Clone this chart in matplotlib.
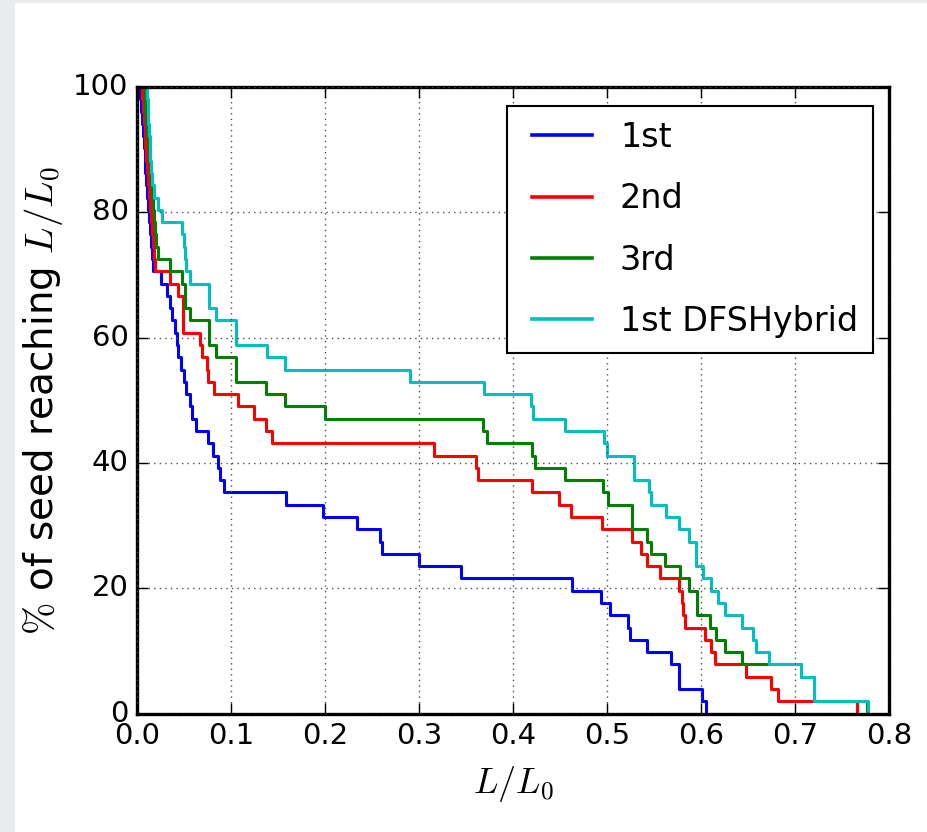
import numpy as np
import matplotlib
matplotlib.use("Agg")
import matplotlib.pyplot as plt
from matplotlib.patches import Rectangle

N_SEEDS = 51

# L/L0 where each curve steps down, and number of seeds still reaching it
first_x = [0.0, 0.003, 0.004, 0.005, 0.006, 0.007, 0.008, 0.009, 0.010, 0.011, 0.012,
           0.013, 0.014, 0.015, 0.016, 0.017, 0.025, 0.032, 0.035, 0.0375, 0.040,
           0.0425, 0.044, 0.047, 0.0495, 0.052, 0.056, 0.059, 0.063, 0.076, 0.081,
           0.086, 0.088, 0.093, 0.159, 0.198, 0.234, 0.258, 0.261, 0.300, 0.345,
           0.463, 0.494, 0.503, 0.522, 0.524, 0.543, 0.568, 0.577, 0.601, 0.605]
first_n = [51, 50, 49, 48, 47, 46, 45, 44, 43, 42, 41,
           40, 39, 38, 37, 36, 35, 34, 33, 32, 31,
           30, 29, 28, 27, 26, 25, 24, 23, 22, 21,
           20, 19, 18, 17, 16, 15, 14, 13, 12, 11,
           10, 9, 8, 7, 6, 5, 4, 2, 1, 0]

second_x = [0.0, 0.005, 0.006, 0.007, 0.008, 0.009, 0.010, 0.011, 0.012, 0.013, 0.014,
            0.015, 0.016, 0.017, 0.018, 0.019, 0.0346, 0.0434, 0.049, 0.0665, 0.069,
            0.074, 0.076, 0.0824, 0.107, 0.124, 0.137, 0.144, 0.316, 0.361, 0.363,
            0.420, 0.449, 0.462, 0.495, 0.527, 0.536, 0.543, 0.556, 0.577, 0.580,
            0.581, 0.583, 0.604, 0.611, 0.615, 0.648, 0.674, 0.682, 0.766]
second_n = [51, 50, 49, 48, 47, 46, 45, 44, 43, 42, 41,
            40, 39, 38, 37, 36, 35, 34, 31, 30, 29,
            28, 27, 26, 25, 24, 23, 22, 21, 20, 19,
            18, 17, 16, 15, 14, 13, 12, 11, 10, 9,
            8, 7, 6, 5, 4, 3, 2, 1, 0]

third_x = [0.0, 0.008, 0.009, 0.010, 0.011, 0.012, 0.013, 0.014, 0.015, 0.016, 0.017,
           0.018, 0.019, 0.020, 0.022, 0.0353, 0.048, 0.051, 0.0566, 0.077, 0.084,
           0.1055, 0.137, 0.157, 0.1995, 0.368, 0.372, 0.420, 0.423, 0.455, 0.4955,
           0.501, 0.527, 0.543, 0.547, 0.562, 0.578, 0.587, 0.596, 0.610, 0.616,
           0.625, 0.644, 0.706, 0.720, 0.777]
third_n = [51, 50, 49, 48, 47, 46, 45, 44, 43, 42, 41,
           40, 39, 38, 37, 36, 35, 33, 32, 30, 29,
           27, 26, 25, 24, 23, 22, 21, 20, 19, 18,
           17, 15, 14, 13, 12, 11, 10, 8, 7, 6,
           5, 4, 3, 1, 0]

hybrid_x = [0.0, 0.011, 0.0115, 0.012, 0.013, 0.0135, 0.014, 0.015, 0.016, 0.0185, 0.022,
            0.027, 0.048, 0.050, 0.051, 0.052, 0.056, 0.077, 0.084, 0.105, 0.138,
            0.157, 0.290, 0.369, 0.419, 0.421, 0.455, 0.497, 0.500, 0.529, 0.545,
            0.547, 0.563, 0.577, 0.587, 0.595, 0.602, 0.611, 0.618, 0.625, 0.644,
            0.655, 0.658, 0.672, 0.706, 0.720, 0.7775]
hybrid_n = [51, 50, 49, 48, 47, 46, 45, 44, 43, 42, 41,
            40, 39, 38, 37, 36, 35, 33, 32, 30, 29,
            28, 27, 26, 25, 24, 23, 22, 21, 19, 18,
            17, 16, 15, 14, 12, 11, 10, 9, 8, 7,
            6, 5, 4, 3, 1, 0]

series = [
    ("1st", first_x, first_n, "b"),
    ("2nd", second_x, second_n, "r"),
    ("3rd", third_x, third_n, "g"),
    ("1st DFSHybrid", hybrid_x, hybrid_n, "c"),
]

plt.style.use("classic")
plt.rcParams["mathtext.fontset"] = "cm"
plt.rcParams["font.family"] = ["DejaVu Sans"]

fig = plt.figure(figsize=(9.27, 8.32), dpi=100, facecolor="white")
# light frame strips along the top and left edge
fig.patches.append(Rectangle((0, 0), 15 / 927, 1, transform=fig.transFigure,
                             facecolor="#e8ecef", edgecolor="none"))
fig.patches.append(Rectangle((0, 1 - 3 / 832), 1, 3 / 832, transform=fig.transFigure,
                             facecolor="#e8ecef", edgecolor="none"))

ax = fig.add_axes([137 / 927, 1 - 713.5 / 832, 752 / 927, 626.5 / 832])
ax.set_facecolor("white")

for label, xs, ns, color in series:
    pct = 100.0 * np.array(ns) / N_SEEDS
    ax.step(xs, pct, where="post", color=color, lw=2.2, label=label)

ax.set_xlim(0, 0.8)
ax.set_ylim(0, 100)
ax.set_xticks(np.arange(0, 0.81, 0.1))
ax.set_yticks(np.arange(0, 101, 20))
ax.grid(True, linestyle=":", color="0.3", lw=1.0)
for s in ax.spines.values():
    s.set_linewidth(2.4)
ax.tick_params(labelsize=21, direction="in", length=8, width=1, pad=6)

ax.set_xlabel(r"$L/L_0$", fontsize=26, labelpad=10)
ax.set_ylabel(r"$\%$ of seed reaching $L/L_0$", fontsize=28, labelpad=6)

leg = ax.legend(loc="upper right", bbox_to_anchor=(873 / 927, 1 - 106 / 832),
                bbox_transform=fig.transFigure, borderaxespad=0, fontsize=24,
                handlelength=2.4, labelspacing=0.85, handletextpad=0.55,
                borderpad=0.45, fancybox=False)
leg.get_frame().set_edgecolor("k")
leg.get_frame().set_linewidth(1.5)
for line in leg.get_lines():
    line.set_linewidth(2.6)

fig.savefig("out.png", dpi=100, facecolor="white")
